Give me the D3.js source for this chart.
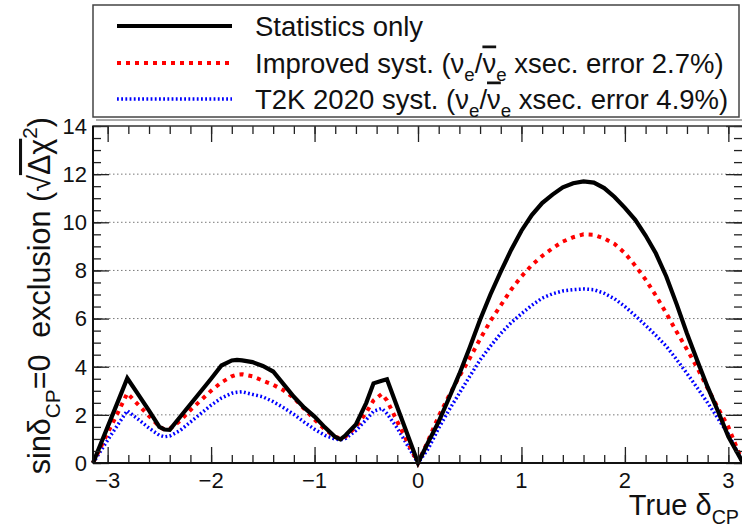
<!DOCTYPE html>
<html>
<head>
<meta charset="utf-8">
<script src="https://cdn.jsdelivr.net/npm/d3@7"></script>
<style>
  html, body { margin: 0; padding: 0; background: #fff; }
  svg { display: block; font-family: "Liberation Sans", Arial, Helvetica, sans-serif; }
</style>
</head>
<body>
<svg id="chart" width="742" height="527"></svg>
<script>
// ---- data ----
const deltaCP = [-3.1416, -3.0, -2.9, -2.81, -2.7, -2.6, -2.5, -2.45, -2.4, -2.3,
  -2.2, -2.1, -2.0, -1.9, -1.8, -1.75, -1.7, -1.6, -1.5, -1.4,
  -1.3, -1.2, -1.1, -1.0, -0.9, -0.8, -0.75, -0.7, -0.6, -0.5,
  -0.43, -0.35, -0.3, -0.2, -0.1, 0.0,
  0.1, 0.2, 0.3, 0.4, 0.5, 0.6, 0.7, 0.8, 0.9, 1.0,
  1.1, 1.2, 1.3, 1.4, 1.5, 1.6, 1.7, 1.8, 1.9, 2.0,
  2.1, 2.2, 2.3, 2.4, 2.5, 2.6, 2.7, 2.8, 2.9, 3.0, 3.1416];

const statOnly = [0, 1.5, 2.56, 3.52, 2.82, 2.18, 1.5, 1.39, 1.38, 1.91,
  2.44, 2.97, 3.5, 4.05, 4.26, 4.28, 4.26, 4.19, 4.03, 3.8,
  3.28, 2.75, 2.3, 1.93, 1.48, 1.08, 0.98, 1.15, 1.6, 2.5,
  3.31, 3.42, 3.48, 2.32, 1.16, 0,
  0.88, 1.72, 2.7, 3.7, 4.8, 5.95, 7.0, 7.95, 8.85, 9.65,
  10.3, 10.8, 11.15, 11.45, 11.62, 11.7, 11.65, 11.42, 11.05, 10.6,
  10.1, 9.45, 8.7, 7.75, 6.6, 5.38, 4.25, 3.15, 2.15, 1.1, 0];

const improvedSyst = [0, 1.25, 2.1, 2.9, 2.4, 1.95, 1.52, 1.38, 1.42, 1.75,
  2.2, 2.6, 3.0, 3.35, 3.6, 3.67, 3.69, 3.6, 3.42, 3.25,
  3.02, 2.7, 2.25, 1.8, 1.4, 1.08, 1.02, 1.1, 1.5, 2.1,
  2.6, 2.87, 2.6, 1.72, 0.86, 0,
  0.95, 1.95, 2.8, 3.6, 4.35, 5.15, 5.9, 6.55, 7.2, 7.75,
  8.22, 8.6, 8.92, 9.2, 9.38, 9.5, 9.48, 9.33, 9.1, 8.72,
  8.2, 7.62, 6.95, 6.22, 5.45, 4.72, 3.95, 3.1, 2.28, 1.5, 0];

const t2kSyst = [0, 0.95, 1.6, 2.17, 1.8, 1.45, 1.15, 1.09, 1.12, 1.35,
  1.7, 2.05, 2.4, 2.7, 2.9, 2.94, 2.96, 2.85, 2.75, 2.55,
  2.3, 2.02, 1.7, 1.4, 1.15, 0.99, 0.96, 1.02, 1.35, 1.8,
  2.15, 2.27, 2.05, 1.45, 0.72, 0,
  0.6, 1.45, 2.2, 2.9, 3.6, 4.28, 4.85, 5.38, 5.83, 6.2,
  6.55, 6.85, 7.03, 7.15, 7.2, 7.23, 7.2, 7.05, 6.82, 6.5,
  6.12, 5.72, 5.3, 4.85, 4.3, 3.72, 3.12, 2.5, 1.85, 1.2, 0];

const seriesNames = ["Statistics only", "Improved syst.", "T2K 2020 syst."];
const xTickValues = [-3, -2, -1, 0, 1, 2, 3];
const yTickValues = [0, 2, 4, 6, 8, 10, 12, 14];

// ---- layout ----
const svg = d3.select("#chart");
const X0 = 93, X1 = 743, Y0 = 463, Y1 = 126;
const x = d3.scaleLinear().domain([-Math.PI, Math.PI]).range([X0, X1]);
const y = d3.scaleLinear().domain([0, 14]).range([Y0, Y1]);

// gridlines (dotted)
svg.append("g").selectAll("line").data([2, 4, 6, 8, 10, 12]).join("line")
  .attr("x1", X0).attr("x2", X1)
  .attr("y1", d => y(d)).attr("y2", d => y(d))
  .attr("stroke", "#777").attr("stroke-width", 1)
  .attr("stroke-dasharray", "1.5,2.5");

// ---- curves ----
const series = [
  { name: seriesNames[0], vals: statOnly, color: "#000", width: 4.2, dash: null },
  { name: seriesNames[1], vals: improvedSyst, color: "#ff0000", width: 4, dash: "4,5" },
  { name: seriesNames[2], vals: t2kSyst, color: "#0000ff", width: 3.5, dash: "1.8,2.4" }
];
const line = d3.line().x(d => x(d[0])).y(d => y(d[1])).curve(d3.curveLinear);
[series[2], series[1], series[0]].forEach(s => {
  svg.append("path")
    .datum(deltaCP.map((v, i) => [v, s.vals[i]]))
    .attr("d", line)
    .attr("fill", "none")
    .attr("stroke", s.color)
    .attr("stroke-width", s.width)
    .attr("stroke-linejoin", "miter")
    .attr("stroke-dasharray", s.dash);
});

// ---- axes (ticks inward) ----
function styleAxis(g) {
  g.select(".domain").remove();
  g.selectAll(".tick line").attr("stroke", "#222").attr("stroke-width", 1.3);
  g.selectAll("text").remove();
}
const xMinor = d3.range(-3.0, 3.01, 0.2).map(v => +v.toFixed(1));
const yMinor = d3.range(0, 14.01, 0.5);
// bottom
svg.append("g").attr("transform", `translate(0,${Y0})`)
  .call(d3.axisBottom(x).tickValues(xMinor).tickSize(-8)).call(styleAxis);
svg.append("g").attr("transform", `translate(0,${Y0})`)
  .call(d3.axisBottom(x).tickValues(xTickValues).tickSize(-16)).call(styleAxis);
// top
svg.append("g").attr("transform", `translate(0,${Y1})`)
  .call(d3.axisTop(x).tickValues(xMinor).tickSize(-8)).call(styleAxis);
svg.append("g").attr("transform", `translate(0,${Y1})`)
  .call(d3.axisTop(x).tickValues(xTickValues).tickSize(-16)).call(styleAxis);
// left
svg.append("g").attr("transform", `translate(${X0},0)`)
  .call(d3.axisLeft(y).tickValues(yMinor).tickSize(-8)).call(styleAxis);
svg.append("g").attr("transform", `translate(${X0},0)`)
  .call(d3.axisLeft(y).tickValues(yTickValues).tickSize(-16)).call(styleAxis);
// right
svg.append("g").attr("transform", `translate(${X1 - 1},0)`)
  .call(d3.axisRight(y).tickValues(yMinor).tickSize(-8)).call(styleAxis);
svg.append("g").attr("transform", `translate(${X1 - 1},0)`)
  .call(d3.axisRight(y).tickValues(yTickValues).tickSize(-16)).call(styleAxis);

// frame
svg.append("rect").attr("x", X0).attr("y", Y1).attr("width", X1 - X0).attr("height", Y0 - Y1)
  .attr("fill", "none").attr("stroke", "#333").attr("stroke-width", 1.5);
svg.append("line").attr("x1", X0).attr("x2", X1).attr("y1", Y0).attr("y2", Y0)
  .attr("stroke", "#111").attr("stroke-width", 2);
svg.append("line").attr("x1", X0).attr("x2", X0).attr("y1", Y1).attr("y2", Y0)
  .attr("stroke", "#111").attr("stroke-width", 2);

// tick labels
svg.append("g").selectAll("text").data(xTickValues).join("text")
  .attr("x", d => x(d)).attr("y", 488)
  .attr("text-anchor", "middle").attr("font-size", 22).attr("fill", "#111")
  .text(d => d < 0 ? "\u2212" + Math.abs(d) : d);
svg.append("g").selectAll("text").data(yTickValues).join("text")
  .attr("x", 87).attr("y", d => y(d)).attr("dy", "0.36em")
  .attr("text-anchor", "end").attr("font-size", 22).attr("fill", "#111")
  .text(d => d);

// rich text helper
function rich(sel, parts, fs) {
  let shift = 0;
  parts.forEach(p => {
    const ts = sel.append("tspan").text(p.t);
    let target = 0;
    if (p.sub) { target = 0.32 * fs; ts.attr("font-size", fs * 0.68); }
    if (p.sup) { target = -0.42 * fs; ts.attr("font-size", fs * 0.68); }
    if (target !== shift) { ts.attr("dy", target - shift); shift = target; }
    if (p.over) ts.style("text-decoration", "overline");
  });
}

// axis titles
const xt = svg.append("text").attr("x", 739).attr("y", 515)
  .attr("text-anchor", "end")
  .attr("font-size", 29).attr("fill", "#111");
rich(xt, [{ t: "True \u03b4" }, { t: "CP", sub: true }], 29);

const yt = svg.append("text")
  .attr("transform", "translate(50,117) rotate(-90)")
  .attr("text-anchor", "end").attr("font-size", 30.5).attr("fill", "#111");
rich(yt, [{ t: "sin\u03b4" }, { t: "CP", sub: true }, { t: "=0\u00a0\u00a0exclusion (\u221a" },
  { t: "\u0394\u03c7", over: true }, { t: "2", sup: true }, { t: ")" }], 30.5);

// ---- legend ----
const LX0 = 93, LX1 = 739, LY0 = 5, LY1 = 117;
svg.append("line").attr("x1", LX0 + 3).attr("x2", 742).attr("y1", LY1 + 3).attr("y2", LY1 + 3)
  .attr("stroke", "#aaa").attr("stroke-width", 2);
svg.append("rect").attr("x", LX0).attr("y", LY0).attr("width", LX1 - LX0).attr("height", LY1 - LY0)
  .attr("fill", "#fff").attr("stroke", "#444").attr("stroke-width", 1.5);

const legRows = [
  { s: series[0], cy: 26, parts: [{ t: "Statistics only" }] },
  { s: series[1], cy: 63, parts: [{ t: "Improved syst. (\u03bd" }, { t: "e", sub: true }, { t: "/" },
      { t: "\u03bd", over: true }, { t: "e", sub: true }, { t: " xsec. error 2.7%)" }] },
  { s: series[2], cy: 99, parts: [{ t: "T2K 2020 syst. (\u03bd" }, { t: "e", sub: true }, { t: "/" },
      { t: "\u03bd", over: true }, { t: "e", sub: true }, { t: " xsec. error 4.9%)" }] }
];
legRows.forEach(r => {
  svg.append("line").attr("x1", 117).attr("x2", 232).attr("y1", r.cy).attr("y2", r.cy)
    .attr("stroke", r.s.color).attr("stroke-width", r.s.width).attr("stroke-dasharray", r.s.dash);
  const t = svg.append("text").attr("x", 255).attr("y", r.cy + 9.5)
    .attr("font-size", 27.5).attr("fill", "#111");
  rich(t, r.parts, 27.5);
});
</script>
</body>
</html>
